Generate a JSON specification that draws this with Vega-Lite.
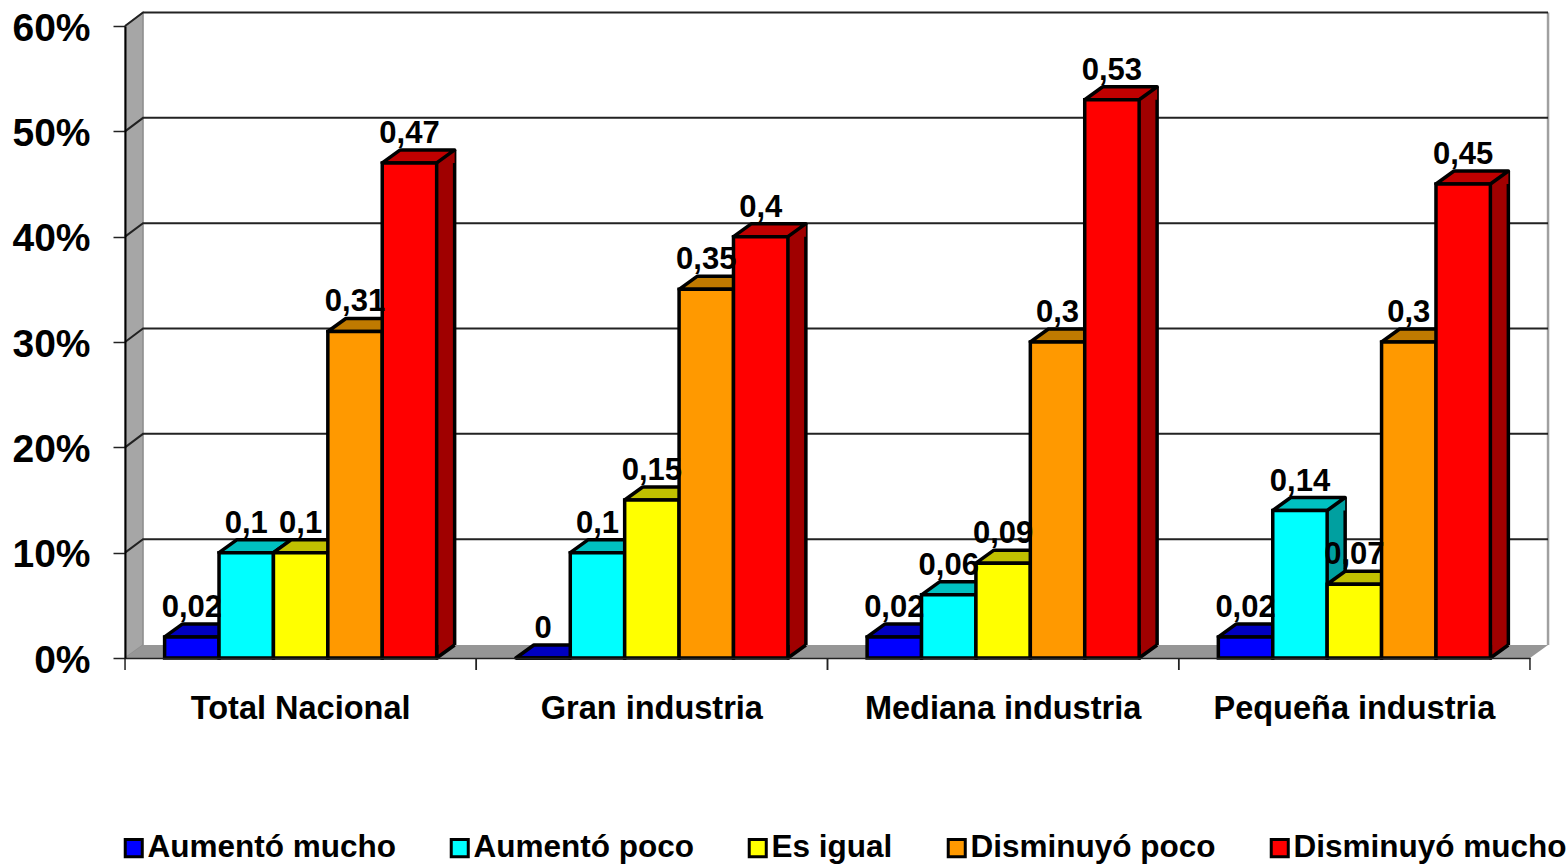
{
"$schema":"https://vega.github.io/schema/vega-lite/v6.json",
"autosize":{"type":"none"},
"padding":{"left":125,"top":26,"right":36,"bottom":207},
"width":1405,"height":632,
"background":"white",
"config":{"view":{"stroke":null},"font":"Liberation Sans"},
"data":{"values":[
{"grupo":"Total Nacional","serie":"Aumentó mucho","valor":0.02,"etiqueta":"0,02"},
{"grupo":"Total Nacional","serie":"Aumentó poco","valor":0.1,"etiqueta":"0,1"},
{"grupo":"Total Nacional","serie":"Es igual","valor":0.1,"etiqueta":"0,1"},
{"grupo":"Total Nacional","serie":"Disminuyó poco","valor":0.31,"etiqueta":"0,31"},
{"grupo":"Total Nacional","serie":"Disminuyó mucho","valor":0.47,"etiqueta":"0,47"},
{"grupo":"Gran industria","serie":"Aumentó mucho","valor":0,"etiqueta":"0"},
{"grupo":"Gran industria","serie":"Aumentó poco","valor":0.1,"etiqueta":"0,1"},
{"grupo":"Gran industria","serie":"Es igual","valor":0.15,"etiqueta":"0,15"},
{"grupo":"Gran industria","serie":"Disminuyó poco","valor":0.35,"etiqueta":"0,35"},
{"grupo":"Gran industria","serie":"Disminuyó mucho","valor":0.4,"etiqueta":"0,4"},
{"grupo":"Mediana industria","serie":"Aumentó mucho","valor":0.02,"etiqueta":"0,02"},
{"grupo":"Mediana industria","serie":"Aumentó poco","valor":0.06,"etiqueta":"0,06"},
{"grupo":"Mediana industria","serie":"Es igual","valor":0.09,"etiqueta":"0,09"},
{"grupo":"Mediana industria","serie":"Disminuyó poco","valor":0.3,"etiqueta":"0,3"},
{"grupo":"Mediana industria","serie":"Disminuyó mucho","valor":0.53,"etiqueta":"0,53"},
{"grupo":"Pequeña industria","serie":"Aumentó mucho","valor":0.02,"etiqueta":"0,02"},
{"grupo":"Pequeña industria","serie":"Aumentó poco","valor":0.14,"etiqueta":"0,14"},
{"grupo":"Pequeña industria","serie":"Es igual","valor":0.07,"etiqueta":"0,07"},
{"grupo":"Pequeña industria","serie":"Disminuyó poco","valor":0.3,"etiqueta":"0,3"},
{"grupo":"Pequeña industria","serie":"Disminuyó mucho","valor":0.45,"etiqueta":"0,45"}
]},
"encoding":{
"x":{"field":"grupo","type":"nominal","scale":{"type":"band","domain":["Total Nacional","Gran industria","Mediana industria","Pequeña industria"],"paddingInner":0.2255,"paddingOuter":0.1128},"title":null,
"axis":{"zindex":1,"labelAngle":0,"labelFontWeight":"bold","labelFontSize":32.5,"labelColor":"black","labelPadding":34,"ticks":false,"domainColor":"#222","domainWidth":1.5,"labelLimit":400}},
"xOffset":{"field":"serie","type":"nominal","scale":{"domain":["Aumentó mucho","Aumentó poco","Es igual","Disminuyó poco","Disminuyó mucho"],"paddingInner":0,"paddingOuter":0}},
"y":{"field":"valor","type":"quantitative","scale":{"domain":[0,0.6],"nice":false},"title":null,
"axis":{"zindex":1,"values":[0,0.1,0.2,0.3,0.4,0.5,0.6],"format":".0%","grid":false,"labelFontWeight":"bold","labelFontSize":39,"labelColor":"black","labelPadding":23,"labelOffset":2,"tickSize":12,"tickWidth":1.5,"tickColor":"#222","domainColor":"black","domainWidth":2}}
},
"layer":[
{"data":{"values":[{"v":0}]},
 "mark":{"type":"point","filled":true,"opacity":1,"size":4,"fill":"#a6a6a6","stroke":"#8c8c8c","strokeWidth":1.5,"shape":"M-175.6,0L-175.6,-632L-157.6,-645.5L-157.6,-13Z"},
 "encoding":{"x":{"datum":"Total Nacional"},"y":{"field":"v","type":"quantitative"},"xOffset":null}},
{"data":{"values":[{"v":0}]},
 "mark":{"type":"point","filled":true,"opacity":1,"size":4,"fill":"#969696","strokeWidth":0,"shape":"M-175.6,0L-157.6,-13L1247.4,-13L1229.4,0Z"},
 "encoding":{"x":{"datum":"Total Nacional"},"y":{"field":"v","type":"quantitative"},"xOffset":null}},
{"data":{"values":[{"v":0}]},
 "mark":{"type":"point","filled":false,"opacity":1,"size":4,"stroke":"#a0a0a0","strokeWidth":2.5,"shape":"M1247.4,-13L1247.4,-645.5"},
 "encoding":{"x":{"datum":"Total Nacional"},"y":{"field":"v","type":"quantitative"},"xOffset":null}},
{"data":{"values":[{"g":0.1},{"g":0.2},{"g":0.3},{"g":0.4},{"g":0.5},{"g":0.6}]},
 "mark":{"type":"point","filled":false,"opacity":1,"size":4,"stroke":"#222222","strokeWidth":2,"shape":"M-175.6,0L-157.6,-13.5L1247.4,-13.5"},
 "encoding":{"x":{"datum":"Total Nacional"},"y":{"field":"g","type":"quantitative"},"xOffset":null}},
{"data":{"values":[{"g":"Total Nacional","v":0},{"g":"Gran industria","v":0},{"g":"Mediana industria","v":0},{"g":"Pequeña industria","v":0}]},
 "mark":{"type":"point","filled":false,"opacity":1,"size":4,"stroke":"#222222","strokeWidth":1.5,"shape":"M-175.6,0L-175.6,12M175.6,0L175.6,12"},
 "encoding":{"x":{"field":"g","type":"nominal"},"y":{"field":"v","type":"quantitative"},"xOffset":null}},
{"mark":{"type":"rule","strokeWidth":18,"strokeCap":"butt","yOffset":-13,"y2Offset":-13,"xOffset":{"expr":"indexof(['Aumentó mucho','Aumentó poco','Es igual','Disminuyó poco','Disminuyó mucho'],datum.serie)*54.4-108.8+36.2"}},
 "encoding":{"xOffset":null,"y2":{"datum":0},"color":{"field":"serie","type":"nominal","legend":null,"scale":{"domain":["Aumentó mucho","Aumentó poco","Es igual","Disminuyó poco","Disminuyó mucho"],"range":["#0000a0","#00a0a0","#a0a000","#a06600","#a00000"]}}}},
{"mark":{"type":"rule","stroke":"black","strokeWidth":3.5,"strokeCap":"butt","yOffset":-13,"y2Offset":-13,"xOffset":{"expr":"indexof(['Aumentó mucho','Aumentó poco','Es igual','Disminuyó poco','Disminuyó mucho'],datum.serie)*54.4-108.8+45.2"}},
 "encoding":{"xOffset":null,"y2":{"datum":0}}},
{"mark":{"type":"point","filled":true,"opacity":1,"size":4,"stroke":"black","strokeWidth":3.5,"strokeJoin":"round","shape":"M27.2,-13L27.2,0L45.2,-13"},
 "encoding":{"y":{"datum":0},"color":{"field":"serie","type":"nominal","legend":null,"scale":{"domain":["Aumentó mucho","Aumentó poco","Es igual","Disminuyó poco","Disminuyó mucho"],"range":["#0000a0","#00a0a0","#a0a000","#a06600","#a00000"]}}}},
{"mark":{"type":"point","filled":true,"opacity":1,"size":4,"strokeWidth":0,"shape":"M27.2,0L45.2,-13L45.2,0Z"},
 "encoding":{"color":{"field":"serie","type":"nominal","legend":null,"scale":{"domain":["Aumentó mucho","Aumentó poco","Es igual","Disminuyó poco","Disminuyó mucho"],"range":["#0000a0","#00a0a0","#a0a000","#a06600","#a00000"]}}}},
{"mark":{"type":"point","filled":true,"opacity":1,"size":4,"stroke":"black","strokeWidth":3.5,"strokeJoin":"round","shape":"M-27.2,0L-9.2,-13L45.2,-13L27.2,0Z"},
 "encoding":{"color":{"field":"serie","type":"nominal","legend":null,"scale":{"domain":["Aumentó mucho","Aumentó poco","Es igual","Disminuyó poco","Disminuyó mucho"],"range":["#0000c0","#00c0c0","#c0c000","#c07a00","#c00000"]}}}},
{"mark":{"type":"bar","stroke":"black","strokeWidth":3.5},
 "encoding":{"y2":{"datum":0},"color":{"field":"serie","type":"nominal","title":null,"scale":{"domain":["Aumentó mucho","Aumentó poco","Es igual","Disminuyó poco","Disminuyó mucho"],"range":["#0000ff","#00ffff","#ffff00","#ff9900","#ff0000"]},
  "legend":{"orient":"none","legendX":-7,"legendY":806,"direction":"horizontal","columns":5,"symbolType":"square","symbolSize":290,"symbolStrokeColor":"black","symbolStrokeWidth":3,"symbolOpacity":1,"labelFontSize":31.5,"labelFontWeight":"bold","labelColor":"black","labelOffset":-2,"columnPadding":48,"labelLimit":400}}}},
{"mark":{"type":"text","fontWeight":"bold","fontSize":31,"color":"black","align":"center","baseline":"middle","dy":-29},
 "encoding":{"text":{"field":"etiqueta","type":"nominal"}}}
],
"resolve":{"scale":{"color":"independent"}}
}
